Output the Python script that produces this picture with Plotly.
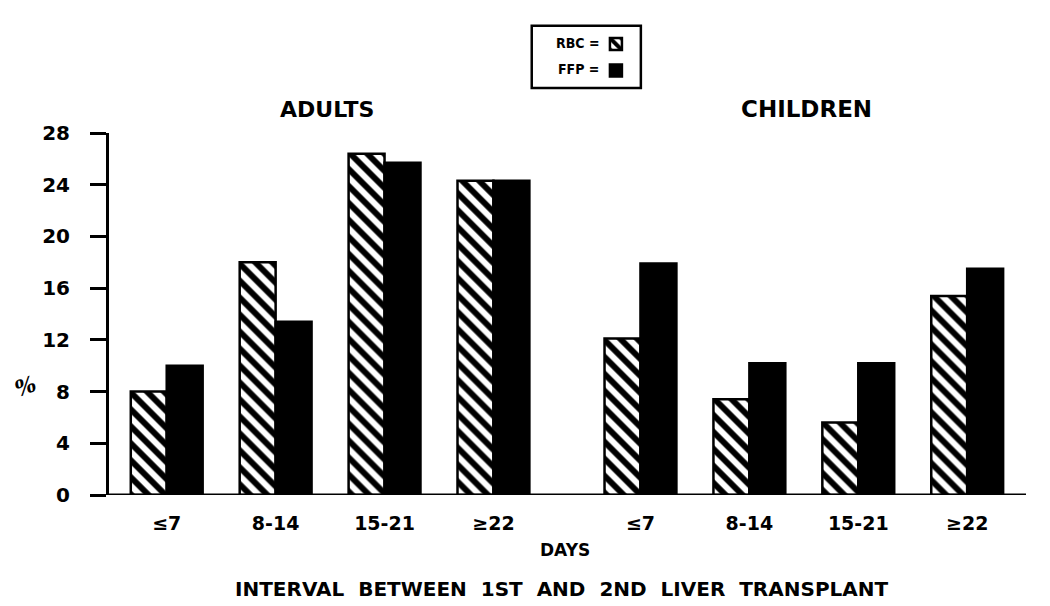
import plotly.graph_objects as go

days = ["≤7", "8-14", "15-21", "≥22"]
groups = ["ADULTS", "CHILDREN"]
rbc_adults = [8.0, 18.0, 26.4, 24.3]
ffp_adults = [10.0, 13.4, 25.7, 24.3]
rbc_children = [12.1, 7.4, 5.6, 15.4]
ffp_children = [17.9, 10.2, 10.2, 17.5]

# positions of the category slots, children shifted right to leave a gap
offset = 4.35
xpos = list(range(len(days))) + [i + offset for i in range(len(days))]
ticktext = days + days

rbc = rbc_adults + rbc_children
ffp = ffp_adults + ffp_children

font = dict(family="DejaVu Sans", color="black", weight="bold")
cond = dict(family="DejaVu Sans Condensed", color="black", weight="bold")

fig = go.Figure()

fig.add_trace(go.Bar(
    x=xpos, y=rbc, name=" ",
    marker=dict(color="white",
                line=dict(color="black", width=2.5),
                pattern=dict(shape="\\", fgcolor="black", bgcolor="white",
                             fgopacity=1, size=12, solidity=0.5,
                             fillmode="replace"))))

fig.add_trace(go.Bar(
    x=xpos, y=ffp, name=" ",
    marker=dict(color="black", line=dict(color="black", width=2.5))))

fig.update_layout(
    width=1050, height=606,
    barmode="group", bargap=0.34, bargroupgap=0,
    plot_bgcolor="white", paper_bgcolor="white",
    margin=dict(l=101, r=32, t=125, b=119, autoexpand=False),
    font=font,
    showlegend=True,
    legend=dict(x=0.531, y=1.296, xanchor="left", yanchor="top",
                bgcolor="rgba(0,0,0,0)", borderwidth=0,
                font=dict(size=18), itemwidth=30))

fig.update_xaxes(
    range=[-0.53, 7.89], tickvals=xpos, ticktext=ticktext,
    showgrid=False, zeroline=False, showline=False,
    ticks="", ticklabelstandoff=15,
    tickfont=dict(size=19, **font))

fig.update_yaxes(
    range=[0, 28], dtick=4, showgrid=False, zeroline=False,
    showline=True, linecolor="black", linewidth=3,
    ticks="outside", ticklen=16, tickwidth=3, tickcolor="black",
    ticklabelstandoff=16,
    tickfont=dict(size=20, **font))

# baseline
fig.add_shape(type="line", xref="paper", yref="y", x0=0, x1=1, y0=0, y1=0,
              line=dict(color="black", width=3))

# legend box and labels
fig.add_shape(type="rect", xref="paper", yref="paper",
              x0=0.461, x1=0.580, y0=1.124, y1=1.296,
              line=dict(color="black", width=2.5))
fig.add_annotation(text="RBC =", xref="paper", yref="paper", x=0.537, y=1.249,
                   xanchor="right", yanchor="middle", showarrow=False,
                   font=dict(size=14, **cond))
fig.add_annotation(text="FFP =", xref="paper", yref="paper", x=0.537, y=1.177,
                   xanchor="right", yanchor="middle", showarrow=False,
                   font=dict(size=14, **cond))

# group titles
fig.add_annotation(text=groups[0], xref="x", yref="paper", x=1.47, y=1.066,
                   yanchor="middle", showarrow=False, font=dict(size=22))
fig.add_annotation(text=groups[1], xref="x", yref="paper", x=1.52 + offset, y=1.066,
                   yanchor="middle", showarrow=False, font=dict(size=23))

# axis titles
fig.add_annotation(text="DAYS", xref="paper", yref="paper", x=0.497, y=-0.152,
                   yanchor="middle", showarrow=False, font=dict(size=17))
fig.add_annotation(text="INTERVAL  BETWEEN  1ST  AND  2ND  LIVER  TRANSPLANT",
                   xref="paper", yref="paper", x=0.494, y=-0.26,
                   yanchor="middle", showarrow=False, font=dict(size=20))
fig.add_annotation(text="%", xref="paper", yref="paper", x=-0.11, y=0.30,
                   yanchor="middle", showarrow=False, textangle=-20,
                   font=dict(size=22, family="DejaVu Serif", style="italic"))

fig.write_html("out.html")
